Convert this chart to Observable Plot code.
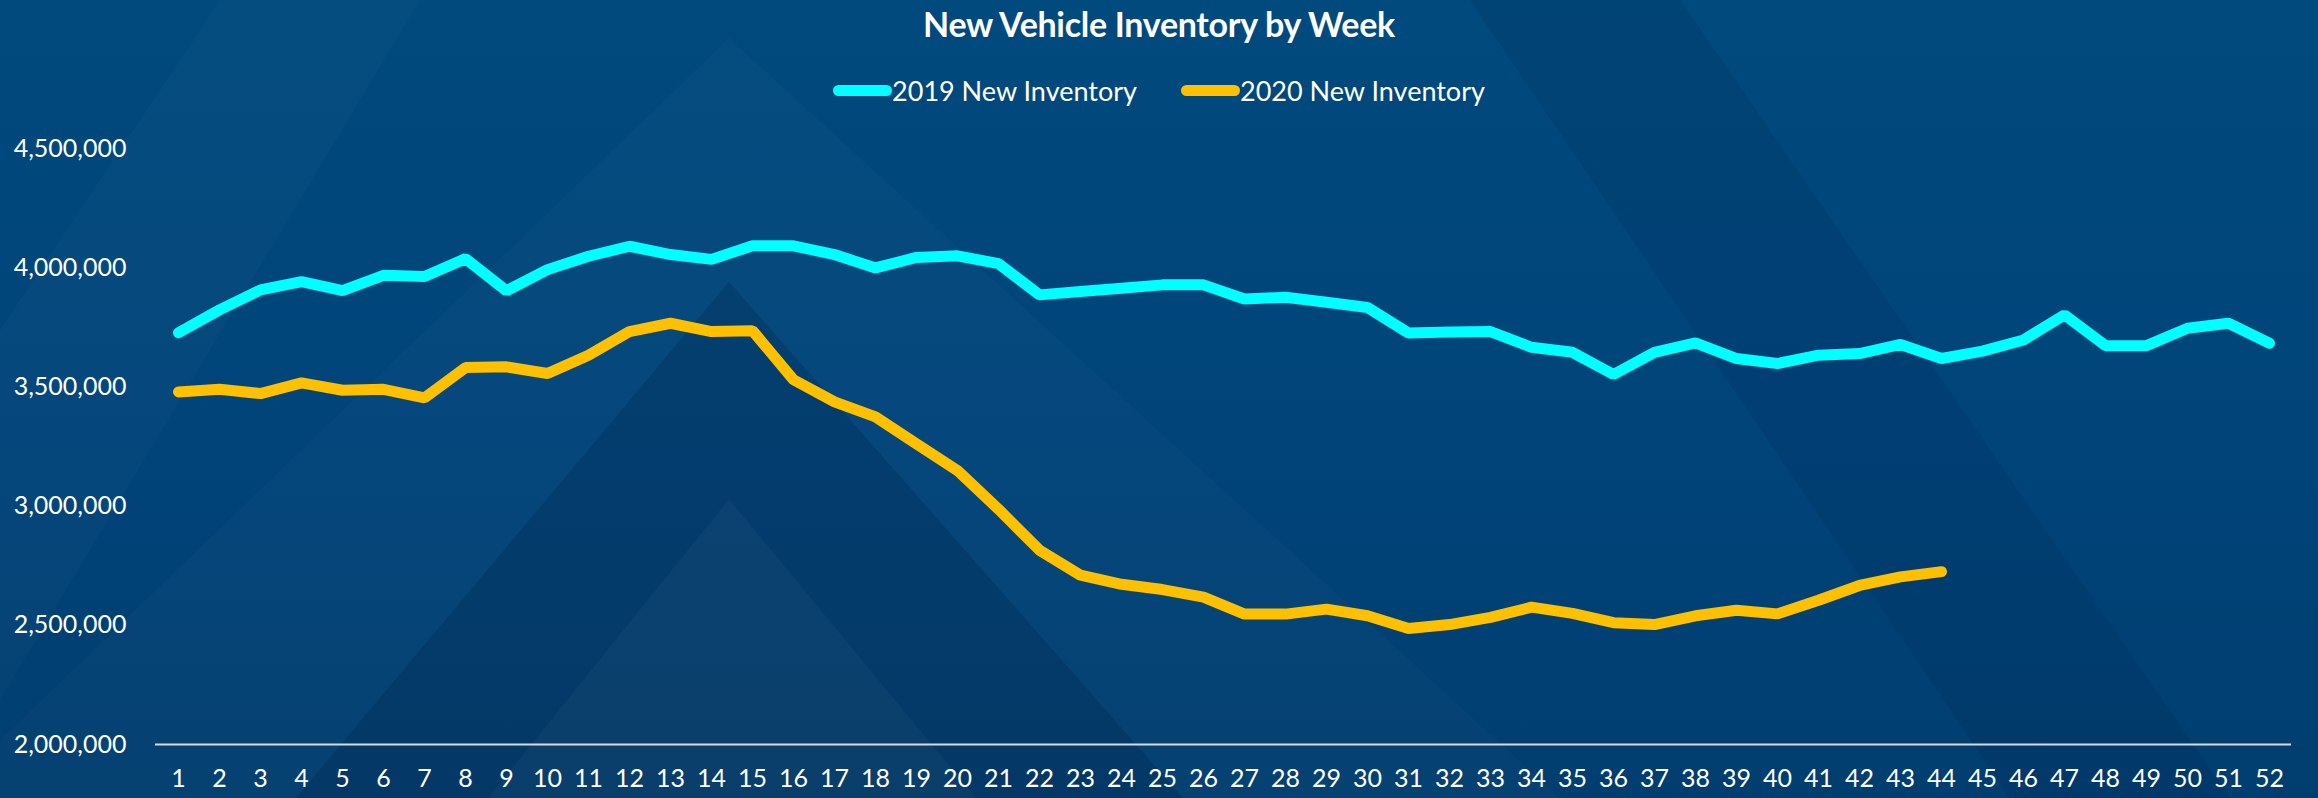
<!DOCTYPE html>
<html>
<head>
<meta charset="utf-8">
<script src="https://cdn.jsdelivr.net/npm/d3@7"></script>
<script src="https://cdn.jsdelivr.net/npm/@observablehq/plot@0.6"></script>
<style>
  html, body { margin: 0; padding: 0; }
  body {
    width: 2318px; height: 798px; overflow: hidden; position: relative;
    background: linear-gradient(180deg, #004a7d 0%, #00447a 55%, #003e6f 100%);
    font-family: Lato, "Open Sans", "Liberation Sans", sans-serif;
    color: #ffffff;
  }
  #deco { position: absolute; left: 0; top: 0; z-index: 0; }
  #wrap { position: relative; z-index: 1; }
  #header { height: 120px; position: relative; }
  #title {
    position: absolute; left: 0; right: 0; top: 0; height: 48px; line-height: 48px;
    text-align: center; font-weight: 700; font-size: 34px; letter-spacing: -0.3px;
  }
  #legend {
    position: absolute; left: 0; right: 0; top: 72px; height: 36px;
    display: flex; justify-content: center; align-items: center; gap: 44px;
    font-size: 27px;
  }
  .item { display: flex; align-items: center; }
  .sw { width: 59px; height: 11px; border-radius: 6px; display: inline-block; }
</style>
</head>
<body>
<svg id="deco" width="2318" height="798">
  <polygon points="729,38 1560,798 -60,798" fill="#ffffff" fill-opacity="0.02"/>
  <polygon points="729,282 1183,798 296,798" fill="#001a40" fill-opacity="0.22"/>
  <polygon points="729,499 976,798 488,798" fill="#ffffff" fill-opacity="0.03"/>
  <polygon points="1470,0 1680,0 2230,798 2010,798" fill="#001a40" fill-opacity="0.12"/>
  <polygon points="220,0 420,0 0,700 0,330" fill="#ffffff" fill-opacity="0.02"/>
</svg>
<div id="wrap">
  <div id="header">
    <div id="title">New Vehicle Inventory by Week</div>
    <div id="legend"></div>
  </div>
  <div id="chart"></div>
</div>
<script>
const weeks = [1,2,3,4,5,6,7,8,9,10,11,12,13,14,15,16,17,18,19,20,21,22,23,24,25,26,
  27,28,29,30,31,32,33,34,35,36,37,38,39,40,41,42,43,44,45,46,47,48,49,50,51,52];

const inv2019 = [3727000,3823000,3907000,3942000,3904000,3968000,3963000,4038000,3903000,3992000,
  4048000,4090000,4055000,4035000,4092000,4092000,4055000,3999000,4043000,4050000,
  4017000,3886000,3900000,3914000,3928000,3928000,3869000,3876000,3855000,3833000,
  3726000,3730000,3732000,3666000,3645000,3552000,3645000,3685000,3619000,3598000,
  3633000,3640000,3678000,3619000,3650000,3697000,3802000,3673000,3673000,3746000,
  3767000,3683000];

const inv2020 = [3479000,3490000,3472000,3517000,3486000,3490000,3454000,3581000,3584000,3556000,
  3633000,3732000,3767000,3732000,3736000,3530000,3437000,3374000,3261000,3149000,
  2987000,2815000,2710000,2672000,2650000,2618000,2547000,2547000,2568000,2540000,
  2487000,2503000,2533000,2576000,2550000,2511000,2503000,2540000,2563000,2548000,
  2605000,2667000,2703000,2725000];

const seriesNames = ["2019 New Inventory", "2020 New Inventory"];
const seriesColors = ["#00ffff", "#ffc000"];
const yTicks = [2000000, 2500000, 3000000, 3500000, 4000000, 4500000];

const rows2019 = inv2019.map((v, i) => ({week: weeks[i], value: v}));
const rows2020 = inv2020.map((v, i) => ({week: weeks[i], value: v}));

// legend
const legend = document.getElementById("legend");
seriesNames.forEach((name, i) => {
  const it = document.createElement("div");
  it.className = "item";
  const sw = document.createElement("span");
  sw.className = "sw";
  sw.style.background = seriesColors[i];
  const tx = document.createElement("span");
  tx.textContent = name;
  it.appendChild(sw); it.appendChild(tx);
  legend.appendChild(it);
});

const fmt = d3.format(",");
const chart = Plot.plot({
  width: 2318,
  height: 678,
  marginLeft: 155,
  marginRight: 27,
  marginTop: 28,
  marginBottom: 54,
  style: {
    background: "transparent",
    color: "#ffffff",
    fontFamily: 'Lato, "Open Sans", "Liberation Sans", sans-serif',
    fontSize: "25px",
    overflow: "visible"
  },
  x: {type: "point", domain: weeks, padding: 0.5, label: null},
  y: {domain: [2000000, 4500000], label: null},
  marks: [
    Plot.axisY({ticks: yTicks, tickFormat: fmt, tickSize: 0, tickPadding: 29, label: null, fontSize: 25}),
    Plot.axisX({tickSize: 0, tickPadding: 25, label: null, fontSize: 25}),
    Plot.ruleY([2000000], {stroke: "#d9d9d9", strokeWidth: 2}),
    Plot.line(rows2019, {x: "week", y: "value", stroke: seriesColors[0], strokeWidth: 11,
      strokeLinecap: "round", strokeLinejoin: "miter"}),
    Plot.line(rows2020, {x: "week", y: "value", stroke: seriesColors[1], strokeWidth: 11,
      strokeLinecap: "round", strokeLinejoin: "miter"})
  ]
});
document.getElementById("chart").appendChild(chart);
</script>
</body>
</html>
